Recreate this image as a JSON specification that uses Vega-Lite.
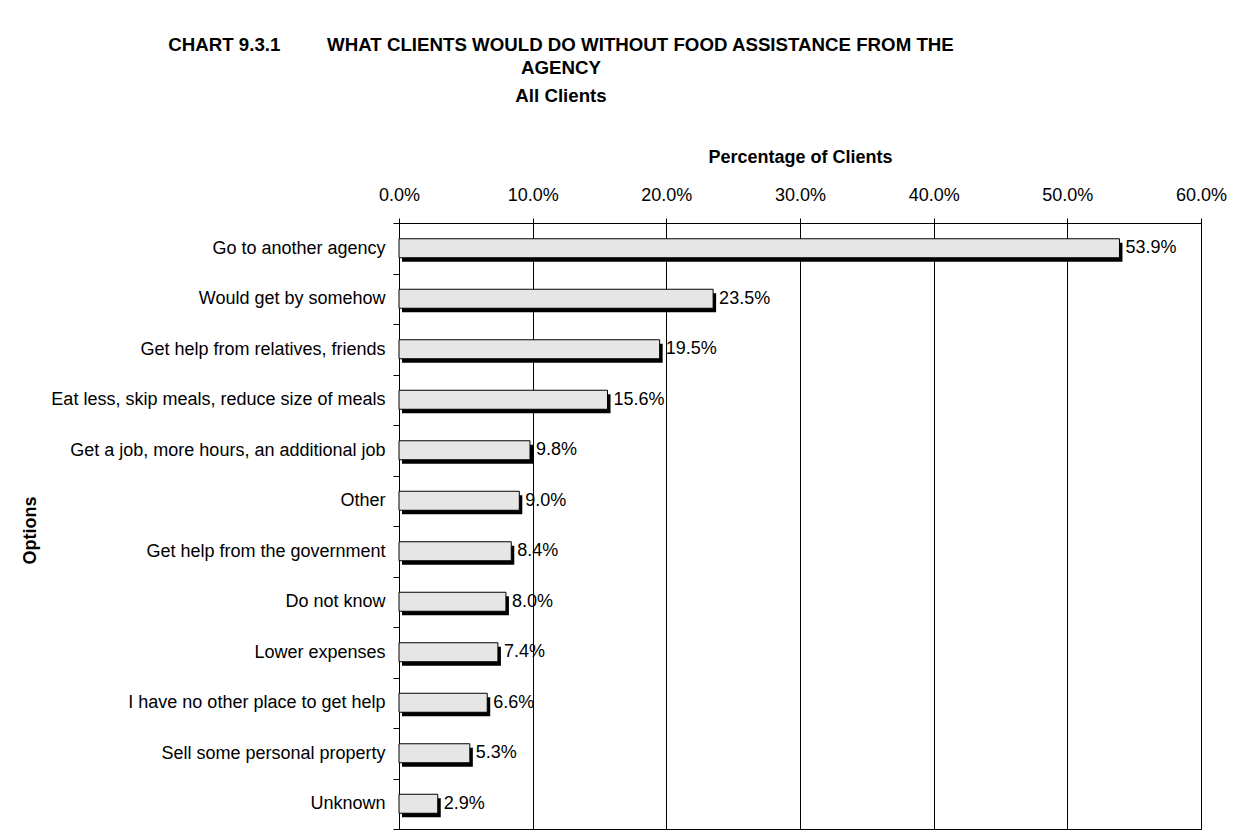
{
  "$schema": "https://vega.github.io/schema/vega-lite/v6.json",
  "width": 802,
  "height": 606,
  "autosize": {"type": "none"},
  "padding": {"left": 399, "top": 223, "right": 35, "bottom": 11},
  "background": "white",
  "title": {
    "text": ["CHART 9.3.1\u00a0\u00a0\u00a0\u00a0\u00a0\u00a0\u00a0\u00a0\u00a0WHAT CLIENTS WOULD DO WITHOUT FOOD ASSISTANCE FROM THE", "AGENCY"],
    "subtitle": "All Clients",
    "anchor": "middle",
    "dx": -239,
    "offset": 42,
    "font": "Liberation Sans",
    "fontSize": 18.7,
    "fontWeight": "bold",
    "color": "black",
    "lineHeight": 23,
    "subtitleFont": "Liberation Sans",
    "subtitleFontSize": 18.7,
    "subtitleFontWeight": "bold",
    "subtitleColor": "black",
    "subtitlePadding": 10
  },
  "data": {
    "values": [
      {"option": "Go to another agency", "pct": 0.539},
      {"option": "Would get by somehow", "pct": 0.235},
      {"option": "Get help from relatives, friends", "pct": 0.195},
      {"option": "Eat less, skip meals, reduce size of meals", "pct": 0.156},
      {"option": "Get a job, more hours, an additional job", "pct": 0.098},
      {"option": "Other", "pct": 0.090},
      {"option": "Get help from the government", "pct": 0.084},
      {"option": "Do not know", "pct": 0.080},
      {"option": "Lower expenses", "pct": 0.074},
      {"option": "I have no other place to get help", "pct": 0.066},
      {"option": "Sell some personal property", "pct": 0.053},
      {"option": "Unknown", "pct": 0.029}
    ]
  },
  "encoding": {
    "y": {
      "field": "option",
      "type": "nominal",
      "sort": null,
      "scale": {"paddingInner": 0, "paddingOuter": 0},
      "axis": {
        "orient": "left",
        "tickBand": "extent",
        "ticks": true,
        "tickSize": 6,
        "tickColor": "black",
        "domainColor": "black",
        "labelPadding": 8,
        "labelFont": "Liberation Sans",
        "labelFontSize": 18,
        "labelColor": "black",
        "labelLimit": 0,
        "grid": false,
        "title": "Options",
        "titleFont": "Liberation Sans",
        "titleFontSize": 18,
        "titleFontWeight": "bold",
        "titleColor": "black",
        "titleAngle": -90,
        "titleAlign": "center",
        "titleBaseline": "middle",
        "titleX": -369,
        "titleY": 307
      }
    },
    "x": {
      "field": "pct",
      "type": "quantitative",
      "scale": {"domain": [0, 0.6], "nice": false},
      "axis": {
        "orient": "top",
        "values": [0, 0.1, 0.2, 0.3, 0.4, 0.5, 0.6],
        "format": ".1%",
        "grid": true,
        "gridColor": "black",
        "gridOpacity": 1,
        "gridWidth": 1,
        "domain": false,
        "tickColor": "black",
        "tickSize": 5,
        "labelFlush": false,
        "labelOverlap": false,
        "labelPadding": 14,
        "labelFont": "Liberation Sans",
        "labelFontSize": 18,
        "labelColor": "black",
        "title": "Percentage of Clients",
        "titleFont": "Liberation Sans",
        "titleFontSize": 18,
        "titleFontWeight": "bold",
        "titleColor": "black",
        "titlePadding": 20
      }
    }
  },
  "layer": [
    {"mark": {"type": "bar", "color": "black", "size": 19, "xOffset": 3, "yOffset": 4}},
    {"mark": {"type": "bar", "fill": "#e6e6e6", "stroke": "black", "strokeWidth": 1, "size": 19}},
    {
      "mark": {"type": "text", "align": "left", "baseline": "middle", "dx": 6, "font": "Liberation Sans", "fontSize": 18, "color": "black"},
      "encoding": {"text": {"field": "pct", "format": ".1%"}}
    }
  ],
  "config": {
    "view": {"stroke": "black", "strokeWidth": 1}
  }
}
